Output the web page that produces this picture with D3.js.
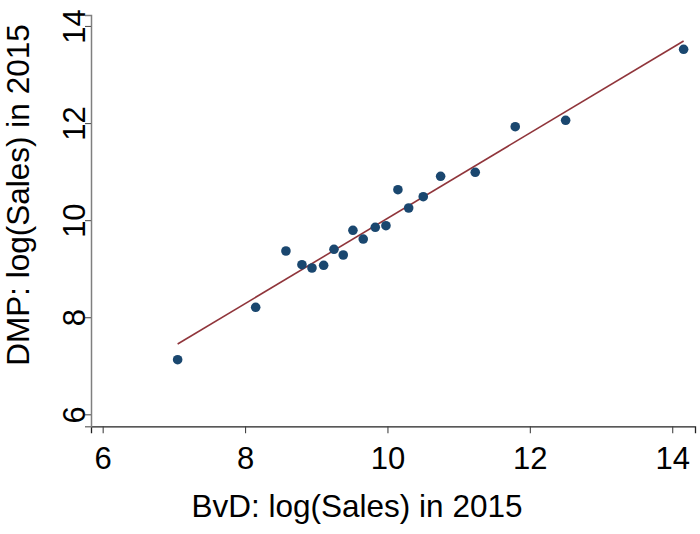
<!DOCTYPE html>
<html>
<head>
<meta charset="utf-8">
<script src="https://cdn.jsdelivr.net/npm/d3@7"></script>
<style>
  html, body { margin: 0; padding: 0; background: #fff; }
  svg { display: block; font-family: "Liberation Sans", Arial, sans-serif; }
</style>
</head>
<body>
<svg id="chart" width="700" height="534"></svg>
<script>
// Firm-level log sales in 2015: BvD (x) vs DMP (y)
const bvdSales = [7.053, 8.149, 8.574, 8.799, 8.940, 9.104, 9.249, 9.379, 9.515, 9.660,
                  9.829, 9.979, 10.147, 10.298, 10.503, 10.747, 11.233, 11.795, 12.503, 14.160];
const dmpSales = [7.125, 8.204, 9.364, 9.082, 9.014, 9.070, 9.399, 9.282, 9.791, 9.611,
                  9.853, 9.885, 10.627, 10.250, 10.483, 10.903, 10.986, 11.925, 12.057, 13.520];

// Linear fit line, drawn over the observed x range
const fitX = [7.053, 14.160];
const fitY = [7.448, 13.691];

const xTicks = [6, 8, 10, 12, 14];
const yTicks = [6, 8, 10, 12, 14];

const xTitle = "BvD: log(Sales) in 2015";
const yTitle = "DMP: log(Sales) in 2015";

const svg = d3.select("#chart");

const x = d3.scaleLinear().domain([5.836, 14.32]).range([91, 695]);
const y = d3.scaleLinear().domain([5.753, 14.226]).range([426.3, 15]);

// x axis
const gx = svg.append("g")
  .attr("transform", `translate(0,${y.range()[0]})`)
  .call(d3.axisBottom(x).tickValues(xTicks).tickSizeOuter(0).tickSize(7).tickPadding(12).tickFormat(d3.format("d")));
gx.select(".domain").attr("stroke", "#222").attr("stroke-width", 1.3);
gx.selectAll(".tick line").attr("stroke", "#444").attr("stroke-width", 1.1);
gx.selectAll(".tick text")
  .attr("font-size", 31).attr("fill", "#000")
  .attr("font-family", "'Liberation Sans', Arial, sans-serif")
  .attr("dy", null).attr("y", 0)
  .attr("transform", "translate(0,43)");

// y axis
const gy = svg.append("g")
  .attr("transform", `translate(${x.range()[0]},0)`)
  .call(d3.axisLeft(y).tickValues(yTicks).tickSizeOuter(0).tickSize(6).tickFormat(d3.format("d")));
gy.select(".domain").attr("stroke", "#7f7f7f").attr("stroke-width", 1.5);
gy.selectAll(".tick line").attr("stroke", "#555").attr("stroke-width", 1.1);
gy.selectAll(".tick text")
  .attr("font-size", 31).attr("fill", "#000")
  .attr("font-family", "'Liberation Sans', Arial, sans-serif")
  .attr("x", 0).attr("y", 0).attr("dy", null)
  .attr("text-anchor", "middle")
  .attr("transform", "translate(-6,0) rotate(-90)");

// fitted line
svg.append("line")
  .attr("x1", x(fitX[0])).attr("y1", y(fitY[0]))
  .attr("x2", x(fitX[1])).attr("y2", y(fitY[1]))
  .attr("stroke", "#90353b").attr("stroke-width", 1.6);

// scatter points
svg.append("g").selectAll("circle")
  .data(bvdSales.map((v, i) => [v, dmpSales[i]]))
  .join("circle")
  .attr("cx", d => x(d[0]))
  .attr("cy", d => y(d[1]))
  .attr("r", 4.8)
  .attr("fill", "#1a476f");

// axis titles
svg.append("text")
  .attr("x", 357).attr("y", 516.5)
  .attr("text-anchor", "middle")
  .attr("font-size", 31.5).attr("fill", "#000")
  .text(xTitle);

svg.append("text")
  .attr("transform", "translate(28.5,195) rotate(-90)")
  .attr("text-anchor", "middle")
  .attr("font-size", 31.5).attr("fill", "#000")
  .text(yTitle);
</script>
</body>
</html>
